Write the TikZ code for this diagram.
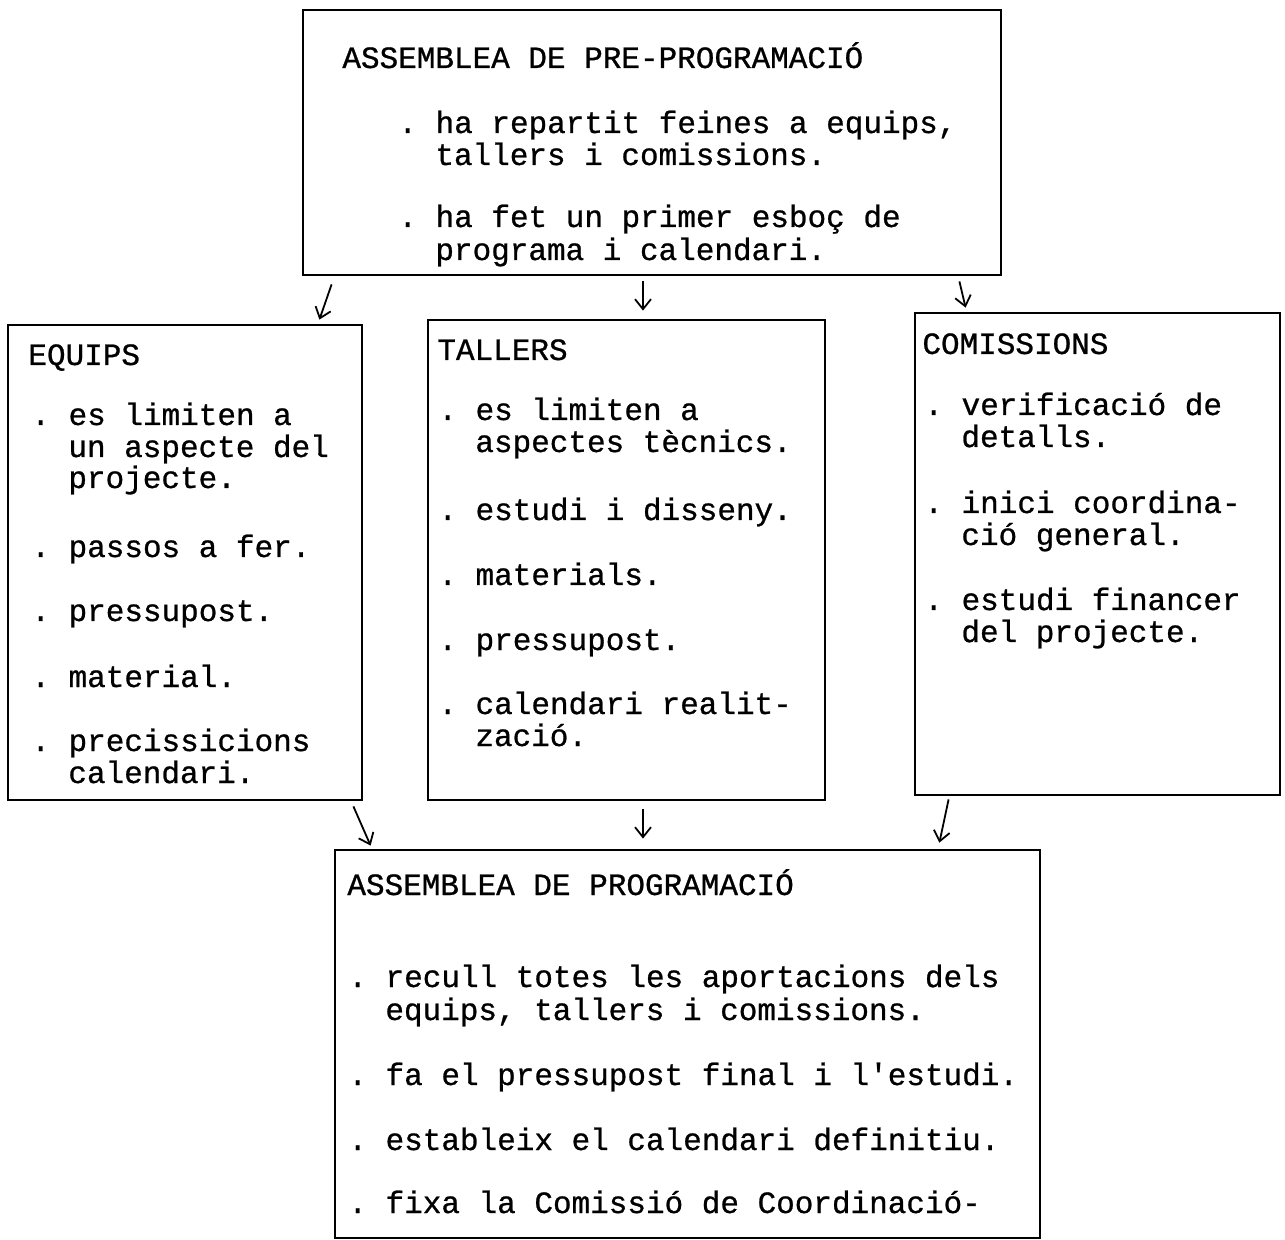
\documentclass[tikz,border=0pt]{standalone}
\usepackage{fontspec}
\usetikzlibrary{arrows.meta,calc}
\newfontfamily\tw{Liberation Mono}[FakeBold=0.8]
\frenchspacing
\begin{document}
\begin{tikzpicture}[x=0.5pt,y=-0.5pt,
  boxnode/.style={draw=black, line width=1.4pt, inner sep=0pt, fill=none},
  txt/.style={anchor=base west, inner sep=0pt, font=\tw\fontsize{15.5}{16}\selectfont\frenchspacing},
  conn/.style={line width=0.9pt, -{Straight Barb[length=5pt,width=8pt]}}]
\useasboundingbox[fill=white] (0,0) rectangle (1285,1240);
% boxes
\node[boxnode, minimum width=349pt, minimum height=132.5pt] (top) at (652,142.5) {};
\node[boxnode, minimum width=177pt, minimum height=237.5pt] (equips) at (185,562.5) {};
\node[boxnode, minimum width=198.5pt, minimum height=240pt] (tallers) at (626.5,560) {};
\node[boxnode, minimum width=182.5pt, minimum height=241pt] (comis) at (1097.5,554) {};
\node[boxnode, minimum width=352.5pt, minimum height=194pt] (bottom) at (687.5,1044) {};
% top text
\node[txt] (t0) at (342,68) {ASSEMBLEA DE PRE-PROGRAMACIÓ};
\node[txt] (t1) at (398,133) {. ha repartit feines a equips,};
\node[txt] (t2) at (435,165) {tallers i comissions.};
\node[txt] (t3) at (398,227) {. ha fet un primer esboç de};
\node[txt] (t4) at (435,260) {programa i calendari.};
% equips
\node[txt] (e0) at (28,365) {EQUIPS};
\node[txt] (e1) at (31,425) {. es limiten a};
\node[txt] (e2) at (68,457) {un aspecte del};
\node[txt] (e3) at (68,488) {projecte.};
\node[txt] (e4) at (31,557) {. passos a fer.};
\node[txt] (e5) at (31,621) {. pressupost.};
\node[txt] (e6) at (31,687) {. material.};
\node[txt] (e7) at (31,751) {. precissicions};
\node[txt] (e8) at (68,783) {calendari.};
% tallers
\node[txt] (a0) at (437,360) {TALLERS};
\node[txt] (a1) at (438,420) {. es limiten a};
\node[txt] (a2) at (475,452) {aspectes tècnics.};
\node[txt] (a3) at (438,520) {. estudi i disseny.};
\node[txt] (a4) at (438,585) {. materials.};
\node[txt] (a5) at (438,650) {. pressupost.};
\node[txt] (a6) at (438,714) {. calendari realit-};
\node[txt] (a7) at (475,746) {zació.};
% comissions
\node[txt] (c0) at (922,354) {COMISSIONS};
\node[txt] (c1) at (924,415) {. verificació de};
\node[txt] (c2) at (961,447) {detalls.};
\node[txt] (c3) at (924,513) {. inici coordina-};
\node[txt] (c4) at (961,545) {ció general.};
\node[txt] (c5) at (924,610) {. estudi financer};
\node[txt] (c6) at (961,642) {del projecte.};
% bottom
\node[txt] (b0) at (347,895) {ASSEMBLEA DE PROGRAMACIÓ};
\node[txt] (b1) at (348,987) {. recull totes les aportacions dels};
\node[txt] (b2) at (385,1020) {equips, tallers i comissions.};
\node[txt] (b3) at (348,1085) {. fa el pressupost final i l\textquotesingle estudi.};
\node[txt] (b4) at (348,1150) {. estableix el calendari definitiu.};
\node[txt] (b5) at (348,1213) {. fixa la Comissió de Coordinació-};
% connectors
\draw[conn] ($(top.south west)+(30,8)$) -- ($(equips.north east)+(-44,-4)$);
\draw[conn] ($(top.south)+(-9,5)$) -- ($(tallers.north)+(16.5,-8)$);
\draw[conn] ($(top.south east)+(-43,5)$) -- ($(comis.north west)+(52,-4)$);
\draw[conn] ($(equips.south east)+(-10,5)$) -- ($(bottom.north west)+(37,-3)$);
\draw[conn] ($(tallers.south)+(16.5,8)$) -- ($(bottom.north)+(-44.5,-10)$);
\draw[conn] ($(comis.south west)+(35,3)$) -- ($(bottom.north east)+(-102,-6)$);
\end{tikzpicture}
\end{document}
